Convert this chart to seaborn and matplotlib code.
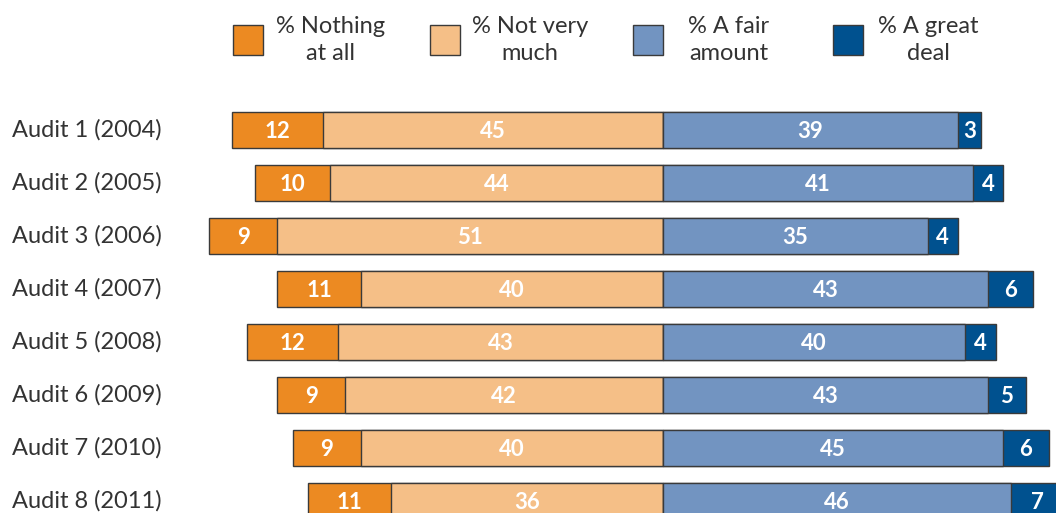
import matplotlib
matplotlib.use("Agg")
import matplotlib.pyplot as plt
import matplotlib.patches as mpatches
from matplotlib.transforms import blended_transform_factory
import pandas as pd
import seaborn as sns

# Survey responses per audit wave (percent)
audits = ["Audit 1 (2004)", "Audit 2 (2005)", "Audit 3 (2006)", "Audit 4 (2007)",
          "Audit 5 (2008)", "Audit 6 (2009)", "Audit 7 (2010)", "Audit 8 (2011)"]
nothing_at_all = [12, 10, 9, 11, 12, 9, 9, 11]
not_very_much = [45, 44, 51, 40, 43, 42, 40, 36]
fair_amount = [39, 41, 35, 43, 40, 43, 45, 46]
great_deal = [3, 4, 4, 6, 4, 5, 6, 7]

legend_labels = ["% Nothing\nat all", "% Not very\nmuch", "% A fair\namount", "% A great\ndeal"]

colors = ["#EC8A22", "#F5BF87", "#7294C1", "#00518F"]
edge = "#3a3a3a"

df = pd.DataFrame({
    "audit": audits,
    "nothing": nothing_at_all,
    "notvery": not_very_much,
    "fair": fair_amount,
    "great": great_deal,
})
# cumulative extents for the diverging stack
df["neg_total"] = -(df["nothing"] + df["notvery"])
df["neg_inner"] = -df["notvery"]
df["pos_total"] = df["fair"] + df["great"]
df["pos_inner"] = df["fair"]

sns.set_theme(style="white")
plt.rcParams["font.family"] = ["Lato", "DejaVu Sans"]

W, H = 1056, 513
fig = plt.figure(figsize=(W / 100, H / 100), dpi=100)
ax = fig.add_axes([0, 0, 1, 1])

bar_h = 0.68
for col, c in [("neg_total", colors[0]), ("neg_inner", colors[1]),
               ("pos_total", colors[3]), ("pos_inner", colors[2])]:
    sns.barplot(data=df, x=col, y="audit", order=audits, orient="h",
                color=c, saturation=1, width=bar_h, edgecolor=edge,
                linewidth=1.0, ax=ax)

# pixel geometry: zero line at x=663, 7.56 px per percent; rows 53 px apart
px_per = 7.56
x0 = 663
ax.set_xlim(-x0 / px_per, (W - x0) / px_per)
row = 53.0
y_first = 130.0
ax.set_ylim((H - y_first) / row, -y_first / row)
ax.axis("off")

# value labels in each segment
for i, a in enumerate(audits):
    n, v, f, g = nothing_at_all[i], not_very_much[i], fair_amount[i], great_deal[i]
    for xc, val in [(-(v + n / 2), n), (-v / 2, v), (f / 2, f), (f + g / 2, g)]:
        ax.text(xc, i + 0.02, str(val), ha="center", va="center", color="white",
                fontsize=16, fontweight="bold")

# row labels at the left edge
trans = blended_transform_factory(fig.transFigure, ax.transData)
for i, a in enumerate(audits):
    ax.text(12 / W, i, a, transform=trans, ha="left", va="center",
            fontsize=17, color="#333333")

# legend: swatches with two-line captions across the top
sw_x = [233, 430, 633, 833]
tx_x = [331, 530, 729, 928]
for sx, tx, c, lab in zip(sw_x, tx_x, colors, legend_labels):
    fig.patches.append(mpatches.Rectangle(
        (sx / W, 1 - 55 / H), 30 / W, 30 / H, transform=fig.transFigure,
        facecolor=c, edgecolor=edge, linewidth=1.0))
    fig.text(tx / W, 1 - 40 / H, lab, ha="center", va="center",
             multialignment="center", fontsize=17, color="#333333",
             linespacing=1.35)

fig.savefig("out.png", dpi=100)
